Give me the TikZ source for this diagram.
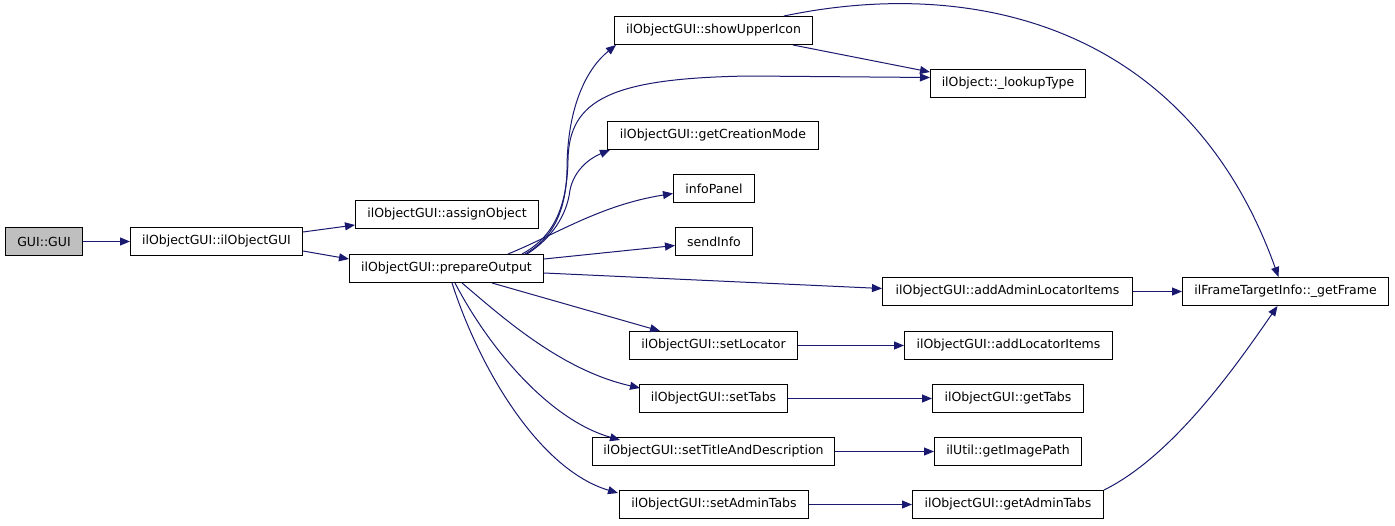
\documentclass[tikz,border=0pt]{standalone}
\usepackage{fontspec}
\setmainfont{DejaVu Sans}
\usetikzlibrary{arrows.meta,calc}
\definecolor{edgeblue}{HTML}{191970}
\definecolor{rootgray}{HTML}{BFBFBF}
\begin{document}
\begin{tikzpicture}[x=1pt,y=-1pt,
  fn/.style={draw=black,line width=1pt,rectangle,anchor=north west,minimum height=28pt,inner sep=0pt,font=\fontsize{12.5}{14}\selectfont},
  call/.style={draw=edgeblue,line width=1pt,-{Triangle[length=10pt,width=8pt]},edgeblue}]
\useasboundingbox (0,0) rectangle (1395,525);
\fill[white] (0,0) rectangle (1395,525);
% nodes
\node[fn,fill=rootgray,minimum width=77pt] (gui) at (5,227) {GUI::GUI};
\node[fn,minimum width=172pt] (ctor) at (130,227) {ilObjectGUI::ilObjectGUI};
\node[fn,minimum width=183pt] (assign) at (355,200) {ilObjectGUI::assignObject};
\node[fn,minimum width=194pt] (prep) at (349,254) {ilObjectGUI::prepareOutput};
\node[fn,minimum width=198pt] (upper) at (614,16) {ilObjectGUI::showUpperIcon};
\node[fn,minimum width=155pt] (lookup) at (930,69) {ilObject::\_lookupType};
\node[fn,minimum width=211pt] (creation) at (607,121) {ilObjectGUI::getCreationMode};
\node[fn,minimum width=81pt] (info) at (673,174) {infoPanel};
\node[fn,minimum width=77pt] (send) at (675,227) {sendInfo};
\node[fn,minimum width=250pt] (adminloc) at (882,277) {ilObjectGUI::addAdminLocatorItems};
\node[fn,minimum width=206pt] (frame) at (1182,277) {ilFrameTargetInfo::\_getFrame};
\node[fn,minimum width=168pt] (setloc) at (629,331) {ilObjectGUI::setLocator};
\node[fn,minimum width=208pt] (addloc) at (904,331) {ilObjectGUI::addLocatorItems};
\node[fn,minimum width=148pt] (settabs) at (639,384) {ilObjectGUI::setTabs};
\node[fn,minimum width=151pt] (gettabs) at (932,384) {ilObjectGUI::getTabs};
\node[fn,minimum width=242pt] (settitle) at (592,437) {ilObjectGUI::setTitleAndDescription};
\node[fn,minimum width=147pt] (imgpath) at (934,437) {ilUtil::getImagePath};
\node[fn,minimum width=189pt] (setadmin) at (619,490) {ilObjectGUI::setAdminTabs};
\node[fn,minimum width=191pt] (getadmin) at (912,490) {ilObjectGUI::getAdminTabs};
% edges
\draw[call] (gui) -- (ctor);
\draw[call] ($(ctor.north east)+(0,5)$) -- ($(assign.south west)+(0,-4)$);
\draw[call] ($(ctor.south east)+(0,-5)$) -- ($(prep.north west)+(0,5)$);
% upward fan from prepareOutput
\draw[call] ($(prep.north west)+(176,0)$) .. controls (550,240) and (566,215) .. (567,170)
   .. controls (567,110) and (585,70) .. ($(upper.south west)+(2,0)$);
\draw[call] ($(prep.north west)+(173,0)$) .. controls (548,240) and (567,215) .. (568,160)
   .. controls (569,100) and (610,78) .. (750,76) -- ($(lookup.west)+(0,-6)$);
\draw[call] ($(prep.north west)+(178,0)$) .. controls (552,238) and (567,215) .. (570,190)
   .. controls (574,170) and (590,158) .. ($(creation.south west)+(3,0)$);
\draw[call] ($(prep.north west)+(159,0)$) .. controls (555,235) and (600,205) .. ($(info.west)+(0,5)$);
\draw[call] ($(prep.north east)+(0,5)$) -- ($(send.west)+(0,4)$);
\draw[call] ($(prep.south east)+(0,-10)$) -- ($(adminloc.west)+(0,-3)$);
% downward fan from prepareOutput
\draw[call] ($(prep.south west)+(143,0)$) -- ($(setloc.north west)+(31,0)$);
\draw[call] ($(prep.south west)+(113,0)$) .. controls (500,315) and (560,370) .. ($(settabs.north west)+(1,4)$);
\draw[call] ($(prep.south west)+(106,0)$) .. controls (490,350) and (550,420) .. ($(settitle.north west)+(28,3)$);
\draw[call] ($(prep.south west)+(103,0)$) .. controls (480,370) and (540,470) .. ($(setadmin.north west)+(-1,3)$);
% right part
\draw[call] ($(upper.south east)+(-20,0)$) -- ($(lookup.north west)+(0,3)$);
\draw[call] ($(upper.north east)+(-29,0)$) .. controls (980,-25) and (1190,30) .. ($(frame.north)+(-7,0)$);
\draw[call] (adminloc) -- (frame);
\draw[call] (setloc) -- (addloc);
\draw[call] (settabs) -- (gettabs);
\draw[call] (settitle) -- (imgpath);
\draw[call] (setadmin) -- (getadmin);
\draw[call] (getadmin.north east) .. controls (1175,455) and (1240,360) .. ($(frame.south)+(-8,0)$);
\end{tikzpicture}
\end{document}
